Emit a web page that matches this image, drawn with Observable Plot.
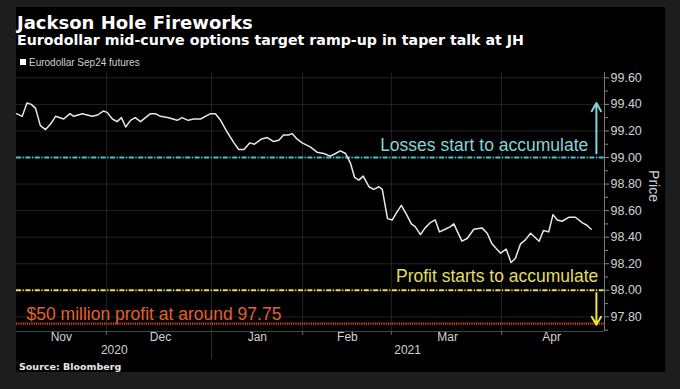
<!DOCTYPE html>
<html>
<head>
<meta charset="utf-8">
<script src="https://cdn.jsdelivr.net/npm/d3@7"></script>
<script src="https://cdn.jsdelivr.net/npm/@observablehq/plot@0.6"></script>
<style>
  html, body { margin: 0; padding: 0; }
  body { width: 680px; height: 389px; background: #1d1d1d; position: relative; overflow: hidden; }
  #panel { position: absolute; left: 16px; top: 7px; width: 649px; height: 365px; background: #000; }
  .t { position: absolute; white-space: nowrap; line-height: 1; }
  #title { left: 17px; top: 11.5px; font: bold 18px "DejaVu Sans"; color: #fff; }
  #subtitle { left: 17px; top: 31.5px; font: bold 14.2px "DejaVu Sans"; color: #fff; }
  #legend { left: 29px; top: 56.5px; font: 10px "Liberation Sans"; color: #d0d0d0; }
  #legsq { position: absolute; left: 20px; top: 59px; width: 6px; height: 6px; background: #fff; }
  #source { left: 19px; top: 361px; font: bold 9.5px "DejaVu Sans"; color: #e8e8e8; }
  #chart { position: absolute; left: 0; top: 60px; }
</style>
</head>
<body>
<div id="panel"></div>
<div id="title" class="t">Jackson Hole Fireworks</div>
<div id="subtitle" class="t">Eurodollar mid-curve options target ramp-up in taper talk at JH</div>
<div id="legsq"></div>
<div id="legend" class="t">Eurodollar Sep24 futures</div>
<div id="chart"></div>
<div id="source" class="t">Source: Bloomberg</div>
<script>
// Trading-day position (0 = first trading day of Nov 2020) and price of Eurodollar Sep24 futures
const day = [
  0, 1.2, 2.2, 3.1, 4.0, 5.0, 6.1, 7.1, 8.2, 9.9,
  11.2, 12.0, 13.8, 15.9, 17.0, 18.2, 19.0, 20.1, 21.1, 22.0,
  22.9, 23.9, 24.9, 26.0, 28.1, 29.1, 30.2, 31.9, 33.7, 34.7,
  36.0, 37.2, 38.6, 39.6, 40.7, 41.7, 42.8, 44.2, 45.6, 46.6,
  47.7, 48.9, 49.9, 51.4, 52.6, 53.9, 55.0, 56.0, 57.0, 57.8,
  58.8, 59.9, 61.6, 63.0, 64.4, 65.8, 66.9, 67.9, 69.0, 70.0,
  70.9, 71.8, 72.7, 73.9, 74.9, 76.0, 76.7, 77.8, 78.8, 79.8,
  80.7, 81.8, 82.8, 83.6, 84.7, 85.7, 86.8, 87.8, 88.7, 89.9,
  91.0, 91.7, 93.4, 94.5, 95.9, 97.6, 98.7, 99.7, 101.5, 102.7,
  103.7, 104.6, 105.7, 106.7, 107.8, 108.7, 109.6, 110.5, 111.6, 112.5,
  113.4, 114.4, 115.8, 117.2, 118.6, 119.6, 120.5
];
const price = [
  99.33, 99.31, 99.41, 99.40, 99.37, 99.24, 99.21, 99.25, 99.31, 99.29,
  99.33, 99.31, 99.33, 99.31, 99.32, 99.35, 99.34, 99.29, 99.27, 99.30,
  99.23, 99.28, 99.30, 99.27, 99.33, 99.33, 99.31, 99.30, 99.28, 99.30,
  99.28, 99.29, 99.29, 99.31, 99.33, 99.33, 99.28, 99.19, 99.11, 99.06,
  99.06, 99.11, 99.10, 99.14, 99.15, 99.12, 99.13, 99.17, 99.17, 99.18,
  99.14, 99.11, 99.08, 99.04, 99.03, 99.01, 99.03, 99.05, 99.03, 98.96,
  98.85, 98.83, 98.86, 98.78, 98.76, 98.78, 98.76, 98.54, 98.53, 98.59,
  98.64, 98.57, 98.50, 98.48, 98.42, 98.47, 98.51, 98.53, 98.44, 98.46,
  98.48, 98.50, 98.37, 98.39, 98.46, 98.47, 98.43, 98.35, 98.28, 98.31,
  98.21, 98.24, 98.35, 98.38, 98.43, 98.40, 98.37, 98.45, 98.44, 98.57,
  98.53, 98.52, 98.55, 98.55, 98.51, 98.49, 98.46
];

// Axis ticks
const monthStarts = [18.9, 40.9, 60.0, 78.6, 101.7];
const monthLabels = ["Nov", "Dec", "Jan", "Feb", "Mar", "Apr"];
const monthLabelPos = [9.4, 30.2, 50.5, 69.4, 90.4, 112.2];
const yearLabels = ["2020", "2021"];
const yearLabelPos = [20.5, 82.0];
const yearBreak = [40.9];
const yMajor = [97.8, 98.0, 98.2, 98.4, 98.6, 98.8, 99.0, 99.2, 99.4, 99.6];
const yMinor = [97.7, 97.9, 98.1, 98.3, 98.5, 98.7, 98.9, 99.1, 99.3, 99.5];
const xDomain = [0, 123.3];
const yDomain = [97.69, 99.64];

// Reference levels
const lossLevel = [99.00];
const profitLevel = [98.00];
const targetLevel = [97.75];

// Annotations
const lossNote = ["Losses start to accumulate"];
const profitNote = ["Profit starts to accumulate"];
const targetNote = ["$50 million profit at around 97.75"];
const lossNotePos = {x: 119.9, y: 99.05};
const profitNotePos = {x: 122.0, y: 98.06};
const targetNotePos = {x: 2.1, y: 97.775};
const arrowX = 121.6;
const lossArrow = {from: 99.03, to: 99.41};
const profitArrow = {from: 97.98, to: 97.74};

const cyan = "#45c2cd", cyanText = "#86d4da", cyanArrow = "#7fd3d9";
const yellow = "#e6df3a", yellowText = "#e2df5e", yellowArrow = "#efe632";
const red = "#d9482a", redText = "#e0622f";
const dashDot = "5,1.6,1.2,1.6";

const series = day.map((d, i) => ({day: d, price: price[i]}));
const gridColor = "#2c2c2c";
const textColor = "#d2d2d2";
const noteFont = 17.5;

const chart = Plot.plot({
  width: 680,
  height: 312,
  marginLeft: 16,
  marginRight: 76,
  marginTop: 12,
  marginBottom: 41,
  style: {background: "transparent", color: textColor, fontFamily: "Liberation Sans, sans-serif", overflow: "visible"},
  x: {domain: xDomain, axis: null},
  y: {domain: yDomain, axis: null},
  marks: [
    Plot.gridY(yMajor, {stroke: gridColor, strokeOpacity: 1, strokeWidth: 0.8}),
    Plot.gridX(monthStarts, {stroke: gridColor, strokeOpacity: 1, strokeWidth: 0.8}),
    Plot.ruleY([yDomain[0]], {stroke: "#444", strokeWidth: 1}),
    Plot.ruleX([xDomain[1]], {stroke: "#777", strokeWidth: 1}),
    // month boundary ticks and year separator
    Plot.axisX(monthStarts, {anchor: "bottom", tickSize: 4, tickFormat: () => "", stroke: "#666", label: null}),
    Plot.axisX(yearBreak, {anchor: "bottom", tickSize: 28, tickFormat: () => "", stroke: "#333", label: null}),
    Plot.text(monthLabels, {x: monthLabelPos, text: d => d, frameAnchor: "bottom", dy: 9, fontSize: 12, fill: textColor}),
    Plot.text(yearLabels, {x: yearLabelPos, text: d => d, frameAnchor: "bottom", dy: 22, fontSize: 12, fill: textColor}),
    // right axis
    Plot.axisY(yMinor, {anchor: "right", tickSize: 3, tickFormat: () => "", stroke: "#888", label: null}),
    Plot.axisY(yMajor, {anchor: "right", tickSize: 4, tickPadding: 2, tickFormat: d => d.toFixed(2), stroke: "#888", fontSize: 12.5, fill: textColor, label: null}),
    Plot.text(["Price"], {frameAnchor: "right", dx: 49, rotate: 90, fontSize: 14, fill: textColor}),
    // reference levels
    Plot.ruleY(lossLevel, {stroke: cyan, strokeWidth: 2, strokeDasharray: dashDot}),
    Plot.ruleY(profitLevel, {stroke: yellow, strokeWidth: 2, strokeDasharray: dashDot}),
    Plot.ruleY(targetLevel, {stroke: red, strokeWidth: 2.2, strokeDasharray: "1.2,1"}),
    // price line
    Plot.line(series, {x: "day", y: "price", stroke: "#e8e8e8", strokeWidth: 1.5}),
    // annotations
    Plot.text(lossNote, {x: lossNotePos.x, y: lossNotePos.y, text: d => d, textAnchor: "end", lineAnchor: "bottom", fill: cyanText, fontSize: noteFont}),
    Plot.text(profitNote, {x: profitNotePos.x, y: profitNotePos.y, text: d => d, textAnchor: "end", lineAnchor: "bottom", fill: yellowText, fontSize: noteFont}),
    Plot.text(targetNote, {x: targetNotePos.x, y: targetNotePos.y, text: d => d, textAnchor: "start", lineAnchor: "bottom", fill: redText, fontSize: noteFont}),
    Plot.arrow([lossArrow], {x1: arrowX, x2: arrowX, y1: "from", y2: "to", stroke: cyanArrow, strokeWidth: 2, headLength: 7}),
    Plot.arrow([profitArrow], {x1: arrowX, x2: arrowX, y1: "from", y2: "to", stroke: yellowArrow, strokeWidth: 2, headLength: 7})
  ]
});

document.getElementById("chart").appendChild(chart);
</script>
</body>
</html>
